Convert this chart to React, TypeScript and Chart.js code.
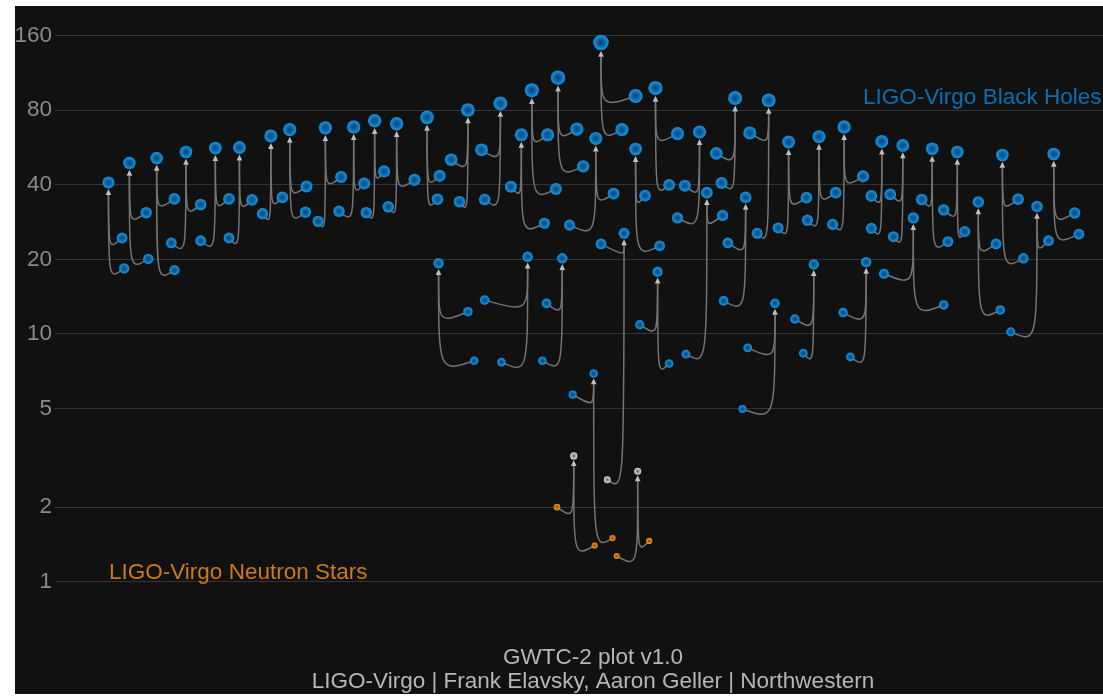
import React, { useEffect, useRef } from 'react';
import { Chart, registerables } from 'chart.js';

Chart.register(...registerables);

// Each merger: remnant plus its two progenitors (solar masses).
// x is an arbitrary placement coordinate along the horizontal (0–100).
const remnantX = [
  5.1, 7.1, 9.7, 12.5, 15.3, 17.6, 20.6, 22.4, 25.8, 28.5,
  30.5, 32.6, 35.5, 36.6, 39.4, 42.5, 44.5, 45.1, 45.5, 48.0,
  48.4, 49.5, 51.4, 51.6, 52.1, 54.3, 55.4, 55.6, 57.3, 57.5,
  61.5, 62.2, 64.9, 65.9, 68.1, 68.7, 70.0, 72.4, 72.9, 75.3,
  77.4, 78.9, 80.9, 81.9, 83.7, 86.1, 88.1, 90.4, 93.7, 95.3,
];
const remnantMass = [
  40.9, 49.0, 51.3, 54.3, 56.3, 56.6, 63.0, 66.8, 68.0, 68.5,
  72.6, 70.6, 74.9, 19.3, 80.2, 85.3, 63.7, 20.5, 96.3, 108.3,
  20.2, 3.22, 6.92, 61.6, 150.1, 25.5, 55.8, 2.79, 98.4, 17.8,
  65.4, 37.2, 89.7, 35.6, 87.7, 13.3, 59.6, 19.1, 62.6, 68.5,
  19.5, 59.9, 57.7, 29.4, 55.9, 54.3, 34.1, 52.8, 32.7, 53.3,
];
const primaryX = [
  6.4, 8.7, 11.4, 13.9, 16.6, 18.8, 21.7, 24.0, 27.3, 29.5,
  31.4, 34.3, 36.7, 39.4, 37.8, 40.7, 43.5, 41.0, 47.0, 49.8,
  46.9, 47.9, 49.4, 53.3, 55.4, 52.1, 56.3, 56.7, 59.4, 55.8,
  60.1, 63.7, 63.1, 64.2, 66.3, 66.1, 71.7, 70.6, 74.5, 77.1,
  75.2, 77.9, 79.7, 79.1, 82.7, 84.8, 89.8, 91.9, 94.8, 97.3,
];
const primaryMass = [
  24.4, 30.9, 35.1, 33.3, 35.1, 34.8, 35.6, 39.4, 43.0, 40.5,
  45.3, 41.9, 43.5, 12.3, 50.5, 55.4, 39.3, 13.7, 63.7, 67.2,
  13.3, 2.0, 5.69, 36.9, 91.4, 23.1, 36.2, 1.46, 64.4, 10.9,
  39.7, 30.1, 53.6, 23.3, 64.8, 8.79, 35.5, 11.5, 37.2, 43.3,
  12.2, 36.1, 36.6, 17.5, 34.9, 31.7, 23.1, 35.0, 23.8, 30.8,
];
const secondaryX = [
  6.6, 8.9, 11.4, 11.1, 13.9, 16.6, 19.8, 23.9, 25.1, 27.1,
  29.7, 31.8, 36.5, 40.0, 38.6, 41.0, 46.7, 42.6, 47.8, 50.4,
  46.5, 51.5, 53.2, 49.1, 54.1, 52.7, 57.7, 53.6, 58.6, 58.6,
  59.4, 60.2, 63.6, 63.8, 67.0, 65.6, 69.0, 71.4, 71.8, 74.2,
  75.9, 77.9, 80.0, 84.8, 85.2, 86.8, 90.2, 92.4, 91.2, 97.7,
];
const secondaryMass = [
  18.4, 20.1, 18.1, 23.3, 23.8, 24.4, 30.6, 31.0, 28.5, 31.3,
  30.9, 32.6, 35.0, 7.8, 34.2, 34.9, 28.0, 7.7, 38.5, 47.5,
  7.8, 1.40, 1.50, 27.5, 66.8, 2.58, 22.7, 1.27, 40.0, 7.6,
  29.4, 8.29, 40.7, 13.6, 25.5, 4.98, 26.8, 8.36, 28.8, 27.7,
  8.08, 26.7, 24.7, 13.1, 23.6, 25.9, 12.5, 20.2, 10.2, 25.3,
];

// Object class of each mark: black hole, neutron star, or mass-gap object.
const remnantKind = remnantMass.map((_, i) => (i === 21 || i === 27 ? 'gap' : 'bh'));
const primaryKind = primaryMass.map((_, i) => (i === 21 || i === 27 ? 'ns' : 'bh'));
const secondaryKind = secondaryMass.map((_, i) =>
  i === 21 || i === 22 || i === 27 ? 'ns' : i === 25 ? 'gap' : 'bh'
);

const yTicks = [1, 2, 5, 10, 20, 40, 80, 160];

const FONT = '"Liberation Sans", Arial, Helvetica, sans-serif';

const radiusFor = (m: number) => 2.9 * Math.pow(m, 0.196);

const palettes: Record<string, [number, string][]> = {
  bh: [[0, '#084575'], [0.45, '#0b63a3'], [0.7, '#127fc6'], [1, '#1b8fd6']],
  ns: [[0, '#8a4a08'], [0.5, '#cc6e10'], [1, '#f28d1e']],
  gap: [[0, '#5a5a5a'], [0.45, '#a0a0a0'], [1, '#dadada']],
};
const flat: Record<string, string> = { bh: '#127fc6', ns: '#d67a14', gap: '#aaaaaa' };

function marksOf(kind: string) {
  const out: { x: number; y: number }[] = [];
  for (let i = 0; i < remnantX.length; i++) {
    if (primaryKind[i] === kind) out.push({ x: primaryX[i], y: primaryMass[i] });
    if (secondaryKind[i] === kind) out.push({ x: secondaryX[i], y: secondaryMass[i] });
    if (remnantKind[i] === kind) out.push({ x: remnantX[i], y: remnantMass[i] });
  }
  return out;
}

const fillFor = (kind: string) => (c: any) => {
  const raw = c.raw;
  const chart = c.chart;
  if (!raw || !chart.scales || !chart.scales.x) return flat[kind];
  const px = chart.scales.x.getPixelForValue(raw.x);
  const py = chart.scales.y.getPixelForValue(raw.y);
  if (!isFinite(px) || !isFinite(py)) return flat[kind];
  const r = radiusFor(raw.y);
  const g = chart.ctx.createRadialGradient(px, py, 0, px, py, r);
  for (const [s, col] of palettes[kind]) g.addColorStop(s, col);
  return g;
};

// Curved links from each progenitor up to its remnant, ending in an arrowhead.
const linksPlugin = {
  id: 'mergerLinks',
  beforeDatasetsDraw(chart: any) {
    const { ctx } = chart;
    const xs = chart.scales.x;
    const ys = chart.scales.y;
    ctx.save();
    for (let i = 0; i < remnantX.length; i++) {
      const xf = xs.getPixelForValue(remnantX[i]);
      const yf = ys.getPixelForValue(remnantMass[i]);
      const tipY = yf + radiusFor(remnantMass[i]) + 0.5;
      const baseY = tipY + 6;
      const parts: [number, number][] = [
        [primaryX[i], primaryMass[i]],
        [secondaryX[i], secondaryMass[i]],
      ];
      for (const [cx, cm] of parts) {
        const px = xs.getPixelForValue(cx);
        const py = ys.getPixelForValue(cm);
        ctx.beginPath();
        ctx.moveTo(px, py);
        ctx.bezierCurveTo(xf, py + 12, xf, py + 12, xf, baseY);
        ctx.strokeStyle = '#747474';
        ctx.lineWidth = 1.5;
        ctx.stroke();
      }
      ctx.beginPath();
      ctx.moveTo(xf, tipY);
      ctx.lineTo(xf - 2.8, baseY);
      ctx.lineTo(xf + 2.8, baseY);
      ctx.closePath();
      ctx.fillStyle = '#c0c0c0';
      ctx.fill();
    }
    ctx.restore();
  },
};

// Group labels and credits.
const textPlugin = {
  id: 'captions',
  afterDraw(chart: any) {
    const { ctx } = chart;
    ctx.save();
    ctx.font = `22.5px ${FONT}`;
    ctx.textBaseline = 'alphabetic';
    ctx.textAlign = 'left';
    ctx.fillStyle = '#0c6eb3';
    ctx.fillText('LIGO-Virgo Black Holes', 848, 98);
    ctx.fillStyle = '#cd781e';
    ctx.fillText('LIGO-Virgo Neutron Stars', 94, 573);
    ctx.textAlign = 'center';
    ctx.fillStyle = '#b6b6b6';
    ctx.fillText('GWTC-2 plot v1.0', 578, 658);
    ctx.fillText('LIGO-Virgo | Frank Elavsky, Aaron Geller | Northwestern', 578, 682);
    ctx.restore();
  },
};

export default function App() {
  const ref = useRef<HTMLCanvasElement>(null);

  useEffect(() => {
    if (!ref.current) return;
    Chart.defaults.font.family = FONT;
    const kinds = ['bh', 'ns', 'gap'];
    const chart = new Chart(ref.current, {
      type: 'scatter',
      data: {
        datasets: kinds.map((k) => ({
          label: k,
          data: marksOf(k),
          backgroundColor: fillFor(k),
          borderWidth: 0,
          pointRadius: (c: any) => (c.raw ? radiusFor(c.raw.y) : 3),
          pointHoverRadius: (c: any) => (c.raw ? radiusFor(c.raw.y) : 3),
          clip: false,
        })),
      },
      options: {
        animation: false,
        responsive: false,
        maintainAspectRatio: false,
        events: [],
        layout: { padding: 0, autoPadding: false },
        plugins: {
          legend: { display: false },
          tooltip: { enabled: false },
          title: { display: false },
        },
        scales: {
          x: { type: 'linear', min: 0, max: 100, display: false },
          y: {
            type: 'logarithmic',
            min: 0.3521,
            max: 210.9,
            bounds: 'data',
            afterBuildTicks: (s: any) => {
              s.ticks = yTicks.map((v) => ({ value: v }));
            },
            afterFit: (s: any) => {
              s.width = 40;
              s.paddingTop = 0;
              s.paddingBottom = 0;
            },
            ticks: {
              autoSkip: false,
              padding: 3,
              color: '#8a8a8a',
              font: { size: 22.5, family: FONT },
              callback: (v: any) => String(v),
            },
            grid: { color: '#343434', lineWidth: 1, drawTicks: false },
            border: { display: false },
          },
        },
      } as any,
      plugins: [linksPlugin, textPlugin],
    } as any);
    return () => chart.destroy();
  }, []);

  return (
    <div
      style={{
        position: 'absolute',
        left: 15,
        top: 6,
        width: 1088,
        height: 688,
        background: '#111111',
        overflow: 'hidden',
      }}
    >
      <canvas
        ref={ref}
        width={1088}
        height={688}
        style={{ display: 'block', width: 1088, height: 688 }}
      />
    </div>
  );
}
